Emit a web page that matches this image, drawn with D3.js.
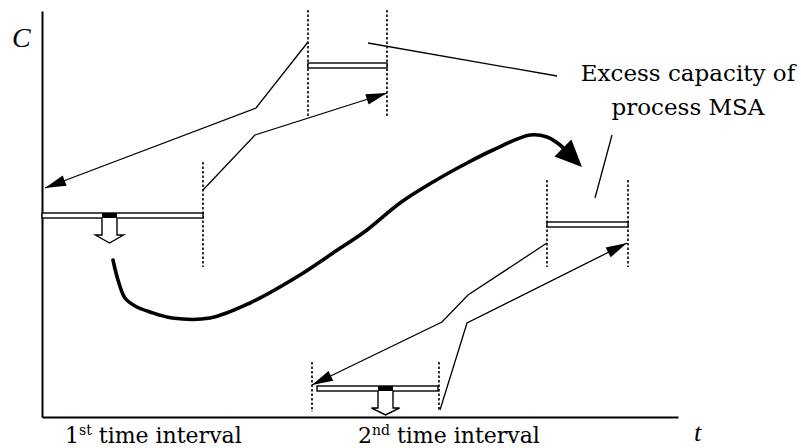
<!DOCTYPE html>
<html>
<head>
<meta charset="utf-8">
<script src="https://cdn.jsdelivr.net/npm/d3@7"></script>
<style>
  html, body { margin: 0; padding: 0; background: #fff; }
  svg { display: block; }
</style>
</head>
<body>
<svg id="chart" width="801" height="448"></svg>
<script>
// ---- data (t = time units, C = capacity units) ----
const axisDomainT = [0, 636];
const axisDomainC = [0, 406];

// capacity bars: [t start, t end, C level]
const capacityBars = [[0, 161, 201.5], [266, 345, 351.5], [505, 586, 192.5], [275, 396, 28.5]];
// dotted interval boundaries: [t, C top, C bottom]
const boundaryLines = [[161, 255, 150], [266, 407, 300], [345, 407, 300], [505, 237, 150], [586, 237, 150], [270, 55, 5], [397, 55, 7]];
// thin transfer lines (arrow at last point)
const transferA = [[266, 375], [214, 309], [3, 229]];
const transferB = [[161, 227], [213, 282], [345, 324]];
const transferC = [[505, 174], [426, 122], [400, 95], [270, 32]];
const transferD = [[398, 7], [425, 94], [585, 174]];
// annotation pointer lines
const pointerLines = [[[326, 374], [515, 341]], [[570, 282], [553, 219]]];
// bold shift curve and its arrow tip
const shiftCurve = [[71, 157], [76, 137], [83, 119], [93, 111], [108, 105], [130, 99], [168, 99], [208, 114], [258, 142], [291, 164], [325, 187], [358, 214], [391, 235], [425, 254], [451, 267], [488, 282], [505, 280], [518, 272], [522, 268]];
const shiftArrowTip = [540, 250];
// hollow "reduce" arrows: [t centre, C top, C head, C tip]
const hollowArrows = [[67.5, 204, 182, 174], [343.5, 31, 9, 2]];
// texts
const annotationLines = ["Excess capacity of", "process MSA"];
const intervalLabels = [["1", "st", " time interval"], ["2", "nd", " time interval"]];
const axisLabels = ["C", "t"];

// ---- drawing ----
const svg = d3.select("#chart");
const x = d3.scaleLinear().domain(axisDomainT).range([42, 678]);
const y = d3.scaleLinear().domain(axisDomainC).range([417, 11]);

// axes (no ticks)
const gy = svg.append("g").attr("transform", `translate(${x(0)},0)`)
  .call(d3.axisLeft(y).tickValues([]).tickSizeOuter(0));
const gx = svg.append("g").attr("transform", `translate(0,${y(0)})`)
  .call(d3.axisBottom(x).tickValues([]).tickSizeOuter(0));
svg.selectAll(".domain").attr("stroke", "#000").attr("stroke-width", 2);

// dotted boundaries
svg.append("g").selectAll("line").data(boundaryLines).join("line")
  .attr("x1", d => x(d[0])).attr("x2", d => x(d[0]))
  .attr("y1", d => y(d[1])).attr("y2", d => y(d[2]))
  .attr("stroke", "#000").attr("stroke-width", 1.6).attr("stroke-dasharray", "2.5,2");

// capacity bars (double lines)
svg.append("g").selectAll("rect").data(capacityBars).join("rect")
  .attr("x", d => x(d[0])).attr("width", d => x(d[1]) - x(d[0]))
  .attr("y", d => y(d[2]) - 2.5).attr("height", 5)
  .attr("fill", "#fff").attr("stroke", "#000").attr("stroke-width", 1.4);

const line = d3.line().x(d => x(d[0])).y(d => y(d[1]));

function arrowHead(tip, from, len, half) {
  const dx = tip[0] - from[0], dy = tip[1] - from[1];
  const L = Math.hypot(dx, dy), ux = dx / L, uy = dy / L;
  const bx = tip[0] - ux * len, by = tip[1] - uy * len;
  return `M${tip[0]},${tip[1]}L${bx - uy * half},${by + ux * half}L${bx + uy * half},${by - ux * half}Z`;
}

// thin transfer lines with arrows
[transferA, transferB, transferC, transferD].forEach(pts => {
  svg.append("path").attr("d", line(pts))
    .attr("fill", "none").attr("stroke", "#000").attr("stroke-width", 1.3);
  const n = pts.length;
  const tip = [x(pts[n - 1][0]), y(pts[n - 1][1])];
  const prev = [x(pts[n - 2][0]), y(pts[n - 2][1])];
  svg.append("path").attr("d", arrowHead(tip, prev, 21, 5.5)).attr("fill", "#000");
});

// pointer lines
svg.append("g").selectAll("path").data(pointerLines).join("path")
  .attr("d", d => line(d)).attr("fill", "none").attr("stroke", "#000").attr("stroke-width", 1.3);

// bold curve
svg.append("path").attr("d", d3.line().x(d => x(d[0])).y(d => y(d[1])).curve(d3.curveCatmullRom)(shiftCurve))
  .attr("fill", "none").attr("stroke", "#000").attr("stroke-width", 3.6).attr("stroke-linecap", "round");
{
  const base = shiftCurve[shiftCurve.length - 1];
  const tip = [x(shiftArrowTip[0]), y(shiftArrowTip[1])];
  const from = [x(base[0]), y(base[1])];
  svg.append("path").attr("d", arrowHead(tip, from, 27, 12)).attr("fill", "#000");
}

// hollow arrows
hollowArrows.forEach(([t, cTop, cHead, cTip]) => {
  const cx = x(t), top = y(cTop) + 5, hy = y(cHead), ty = y(cTip);
  const s = 7.5, h = 14;
  svg.append("path")
    .attr("d", `M${cx - s},${top}L${cx - s},${hy}L${cx - h},${hy}L${cx},${ty}L${cx + h},${hy}L${cx + s},${hy}L${cx + s},${top}`)
    .attr("fill", "#fff").attr("stroke", "#000").attr("stroke-width", 1.4);
  svg.append("rect").attr("x", cx - s).attr("width", 2 * s)
    .attr("y", y(cTop)).attr("height", 5).attr("fill", "#000");
});

// annotation text
svg.append("g").selectAll("text").data(annotationLines).join("text")
  .attr("x", 688).attr("y", (d, i) => 81 + i * 34)
  .attr("text-anchor", "middle")
  .attr("font-family", "DejaVu Serif").attr("font-size", 23)
  .text(d => d);

// interval labels
const labelX = [65, 358];
intervalLabels.forEach((parts, i) => {
  const t = svg.append("text").attr("x", labelX[i]).attr("y", 443)
    .attr("font-family", "DejaVu Serif").attr("font-size", 22);
  t.append("tspan").text(parts[0]);
  t.append("tspan").attr("dy", -8).attr("font-size", 14).text(parts[1]);
  t.append("tspan").attr("dy", 8).text(parts[2]);
});

// axis labels
svg.append("text").attr("x", 12).attr("y", 47)
  .attr("font-family", "Liberation Serif").attr("font-style", "italic").attr("font-size", 28)
  .text(axisLabels[0]);
svg.append("text").attr("x", 694).attr("y", 441)
  .attr("font-family", "Liberation Serif").attr("font-style", "italic").attr("font-size", 26)
  .text(axisLabels[1]);
</script>
</body>
</html>
